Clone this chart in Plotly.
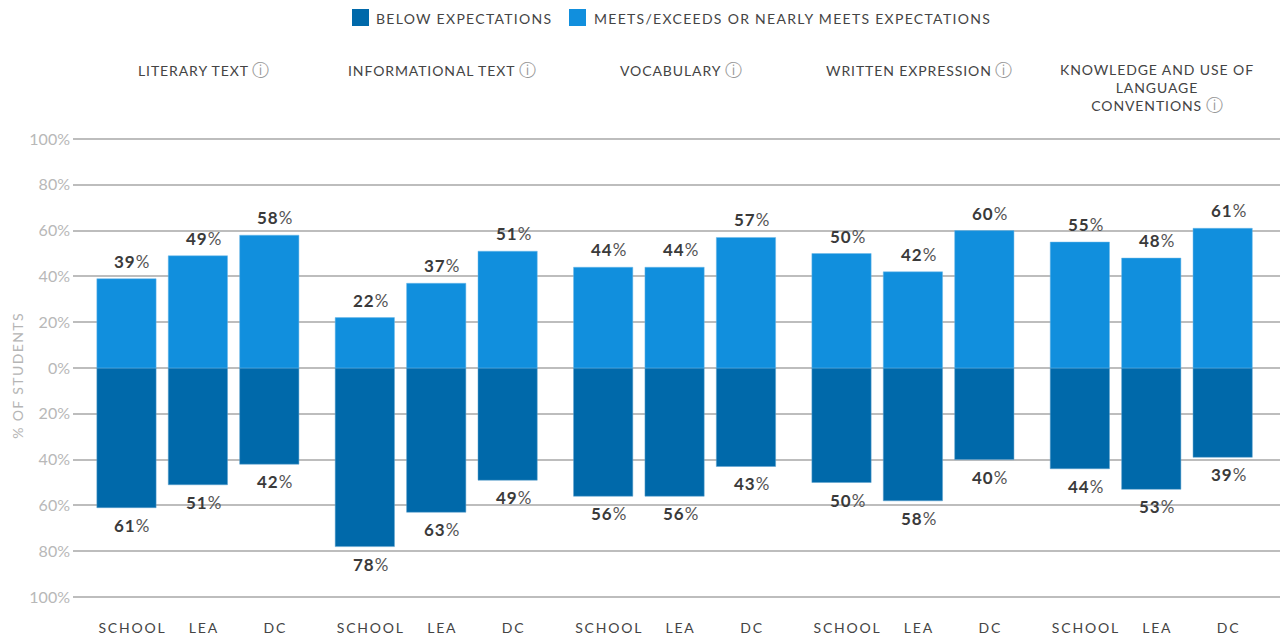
import plotly.graph_objects as go

groups = ["LITERARY TEXT", "INFORMATIONAL TEXT", "VOCABULARY", "WRITTEN EXPRESSION",
          "KNOWLEDGE AND USE OF<br>LANGUAGE<br>CONVENTIONS"]
entities = ["SCHOOL", "LEA", "DC"]
meets = [39, 49, 58, 22, 37, 51, 44, 44, 57, 50, 42, 60, 55, 48, 61]
below = [61, 51, 42, 78, 63, 49, 56, 56, 43, 50, 58, 40, 44, 53, 39]
y_ticks = [-100, -80, -60, -40, -20, 0, 20, 40, 60, 80, 100]
below_name = "BELOW EXPECTATIONS"
meets_name = "MEETS/EXCEEDS OR NEARLY MEETS EXPECTATIONS"

DARK = "#0069aa"
LIGHT = "#118fdd"
FONT = "Lato, 'Open Sans', sans-serif"
STEP = 3.338
xs = [g * STEP + i for g in range(len(groups)) for i in range(len(entities))]
labels = entities * len(groups)
neg = [-v for v in below]


def spaced(text, px):
    return "<br>".join(f"<span style='letter-spacing:{px}px'>{t}</span>" for t in text.split("<br>"))


fig = go.Figure()
fig.add_bar(x=xs, y=neg, name=below_name, width=0.83, showlegend=False,
            marker=dict(color=DARK, line=dict(color="#5fa3cf", width=0.5)))
fig.add_bar(x=xs, y=meets, name=meets_name, width=0.83, showlegend=False,
            marker=dict(color=LIGHT, line=dict(color="#6db9e9", width=0.5)))

ann = []
for x, p, n in zip(xs, meets, below):
    ann.append(dict(x=x, y=p, text=spaced(f"<b>{p}</b><span style='color:#555555'>%</span>", 1),
                    showarrow=False, xshift=6, yshift=5, yanchor="bottom",
                    font=dict(family=FONT, size=17, color="#3a3a3a")))
    ann.append(dict(x=x, y=-n, text=spaced(f"<b>{n}</b><span style='color:#555555'>%</span>", 1),
                    showarrow=False, xshift=6, yshift=-5, yanchor="top",
                    font=dict(family=FONT, size=17, color="#3a3a3a")))
info = " <span style='color:#999999;font-size:17px'>ⓘ</span>"
for g, name in enumerate(groups):
    ann.append(dict(x=g * STEP + 1, xshift=6, y=1, yref="paper",
                    yshift=77 if "<br>" in name else 79, yanchor="top",
                    text=spaced(name, 0.9) + info, showarrow=False, align="center",
                    font=dict(family=FONT, size=14, color="#444444")))
ann.append(dict(xref="paper", x=-0.0465, xanchor="center", yref="paper", y=0.5, yshift=-7, yanchor="middle",
                text=spaced("% OF STUDENTS", 1.4), textangle=-90, showarrow=False,
                font=dict(family=FONT, size=14, color="#b5b5b5")))
ann.append(dict(xref="paper", xanchor="left", x=(374-73)/1207, yref="paper", y=1, yshift=118,
                yanchor="middle", text=spaced(below_name, 1.3), showarrow=False,
                font=dict(family=FONT, size=14, color="#444444")))
ann.append(dict(xref="paper", xanchor="left", x=(592-73)/1207, yref="paper", y=1, yshift=118,
                yanchor="middle", text=spaced(meets_name, 1.3), showarrow=False,
                font=dict(family=FONT, size=14, color="#444444")))

shapes = []
for x0, c in ((352, DARK), (569, LIGHT)):
    shapes.append(dict(type="rect", xref="paper", yref="paper",
                       x0=(x0-73)/1207, x1=(x0+17-73)/1207,
                       y0=(600-26)/464, y1=(600-9)/464,
                       fillcolor=c, line=dict(width=0)))

fig.update_layout(
    width=1280, height=639, barmode="overlay", paper_bgcolor="white", plot_bgcolor="white",
    margin=dict(l=73, r=0, t=136, b=39), showlegend=False,
    annotations=ann, shapes=shapes, font=dict(family=FONT),
    xaxis=dict(range=[-0.749, 16.155], tickvals=xs, ticktext=[spaced(t, 1.8) for t in labels],
               showgrid=False, zeroline=False, ticks="", ticklabelshift=6, ticklabelstandoff=18,
               tickfont=dict(family=FONT, size=14, color="#444444")),
    yaxis=dict(range=[-101.31, 101.31], tickvals=y_ticks, ticktext=[f"{abs(v)}%" for v in y_ticks],
               showgrid=True, gridcolor="#bdbdbd", gridwidth=1.5, zeroline=False, ticks="",
               ticklabelstandoff=2, tickfont=dict(family=FONT, size=16, color="#b8b8b8")),
)
fig.write_html("out.html", config=dict(displayModeBar=False),
               post_script="document.body.style.margin='0';document.body.style.overflow='hidden';")
